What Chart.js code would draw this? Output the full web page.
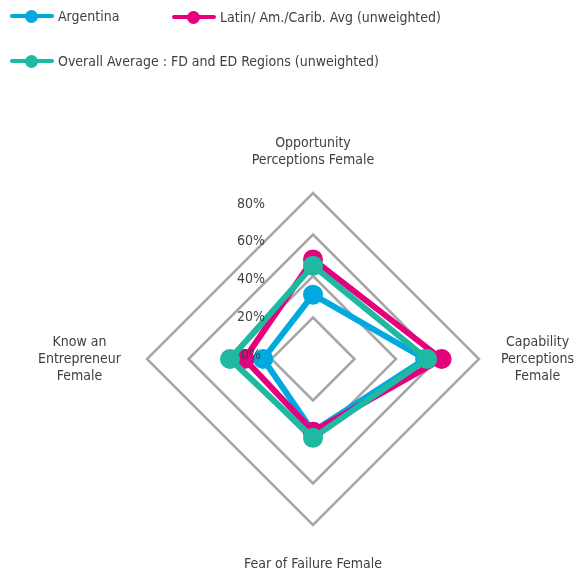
<!DOCTYPE html>
<html>
<head>
<meta charset="utf-8">
<script src="https://cdn.jsdelivr.net/npm/chart.js@4"></script>
<style>
  html, body { margin: 0; padding: 0; background: #fff; }
  #wrap { position: relative; width: 584px; height: 574px; }
  #radar { position: absolute; left: 0; top: 0; }
  #legend { position: absolute; left: 0; top: 0; width: 584px; font-family: "Liberation Sans Narrow", "DejaVu Sans Condensed", sans-serif; font-size: 14px; color: #404040; }
  .item { position: absolute; display: flex; align-items: center; white-space: nowrap; }
  .sw { position: relative; width: 44px; height: 14px; margin-right: 4px; }
  .sw .ln { position: absolute; left: 0; right: 0; top: 5px; height: 4px; border-radius: 2px; }
  .sw .dt { position: absolute; left: 15px; top: 1px; width: 13px; height: 13px; border-radius: 50%; }
</style>
</head>
<body>
<div id="wrap">
  <canvas id="radar" width="584" height="574"></canvas>
  <div id="legend"></div>
</div>
<script>
// categories (axes of the radar)
const categories = [
  ['Opportunity', 'Perceptions Female'],
  ['Capability', 'Perceptions', 'Female'],
  ['Fear of Failure Female'],
  ['Know an', 'Entrepreneur', 'Female']
];

// series values, in %
const argentina = [31, 54, 35, 24];
const latinAvg = [48, 62, 35, 33];
const overallAvg = [45, 55, 38, 40];

const seriesNames = ['Argentina', 'Latin/ Am./Carib. Avg (unweighted)', 'Overall Average : FD and ED Regions (unweighted)'];
const seriesColors = ['#00a9e0', '#e5007e', '#1fb8a0'];

// axis tick labels
const tickValues = [0, 20, 40, 60, 80];
const tickLabels = ['0%', '20%', '40%', '60%', '80%'];

const FONT = '"Liberation Sans Narrow", "DejaVu Sans Condensed", sans-serif';

// legend (html)
const legendPos = [[10, 8], [172, 9], [10, 53]];
const legendEl = document.getElementById('legend');
seriesNames.forEach((name, i) => {
	const it = document.createElement('div');
	it.className = 'item';
	it.style.left = legendPos[i][0] + 'px';
	it.style.top = legendPos[i][1] + 'px';
	it.innerHTML = '<span class="sw"><span class="ln" style="background:' + seriesColors[i] + '"></span><span class="dt" style="background:' + seriesColors[i] + '"></span></span><span class="tx"></span>';
	it.querySelector('.tx').textContent = name;
	legendEl.appendChild(it);
});

// draws the % labels left of the center and the centered category labels
const labelsPlugin = {
	id: 'customLabels',
	afterDraw(chart) {
		const scale = chart.scales.r;
		const ctx = chart.ctx;
		ctx.save();
		ctx.font = '14px ' + FONT;
		ctx.fillStyle = '#404040';
		ctx.textAlign = 'center';
		ctx.textBaseline = 'middle';
		tickValues.forEach((v, i) => {
			const d = scale.getDistanceFromCenterForValue(v);
			ctx.fillText(tickLabels[i], scale.xCenter - 62, scale.yCenter - 4 - d * 151 / 166);
		});

		const lh = 17;
		const R = scale.drawingArea;
		categories.forEach((lines, i) => {
			const w = Math.max(...lines.map(l => ctx.measureText(l).width));
			const h = lines.length * lh;
			let cx, cy;
			if (i === 0) { cx = scale.xCenter; cy = scale.yCenter - R - 24 - h / 2; }
			else if (i === 1) { cx = scale.xCenter + R + 22 + w / 2; cy = scale.yCenter; }
			else if (i === 2) { cx = scale.xCenter; cy = scale.yCenter + R + 31 + h / 2; }
			else { cx = scale.xCenter - R - 26 - w / 2; cy = scale.yCenter; }
			lines.forEach((l, k) => {
				ctx.fillText(l, cx, cy - h / 2 + lh / 2 + k * lh);
			});
		});
		ctx.restore();
	}
};

const allSeries = [argentina, latinAvg, overallAvg];

new Chart(document.getElementById('radar'), {
	type: 'radar',
	data: {
		labels: categories,
		datasets: allSeries.map((vals, i) => ({
			label: seriesNames[i],
			data: vals,
			borderColor: seriesColors[i],
			backgroundColor: seriesColors[i],
			pointBackgroundColor: seriesColors[i],
			pointBorderColor: seriesColors[i],
			borderWidth: 6,
			pointRadius: 7,
			pointHoverRadius: 7,
			fill: false,
			tension: 0,
			order: 3 - i
		}))
	},
	options: {
		responsive: false,
		animation: false,
		layout: { padding: { left: 147, right: 105, top: 193, bottom: 49 } },
		plugins: {
			legend: { display: false },
			tooltip: { enabled: false }
		},
		scales: {
			r: {
				min: 0,
				max: 80,
				ticks: { display: false, stepSize: 20 },
				grid: { color: '#a6a6a6', lineWidth: 2.5, circular: false },
				angleLines: { display: false },
				pointLabels: { display: false }
			}
		}
	},
	plugins: [labelsPlugin]
});
</script>
</body>
</html>
